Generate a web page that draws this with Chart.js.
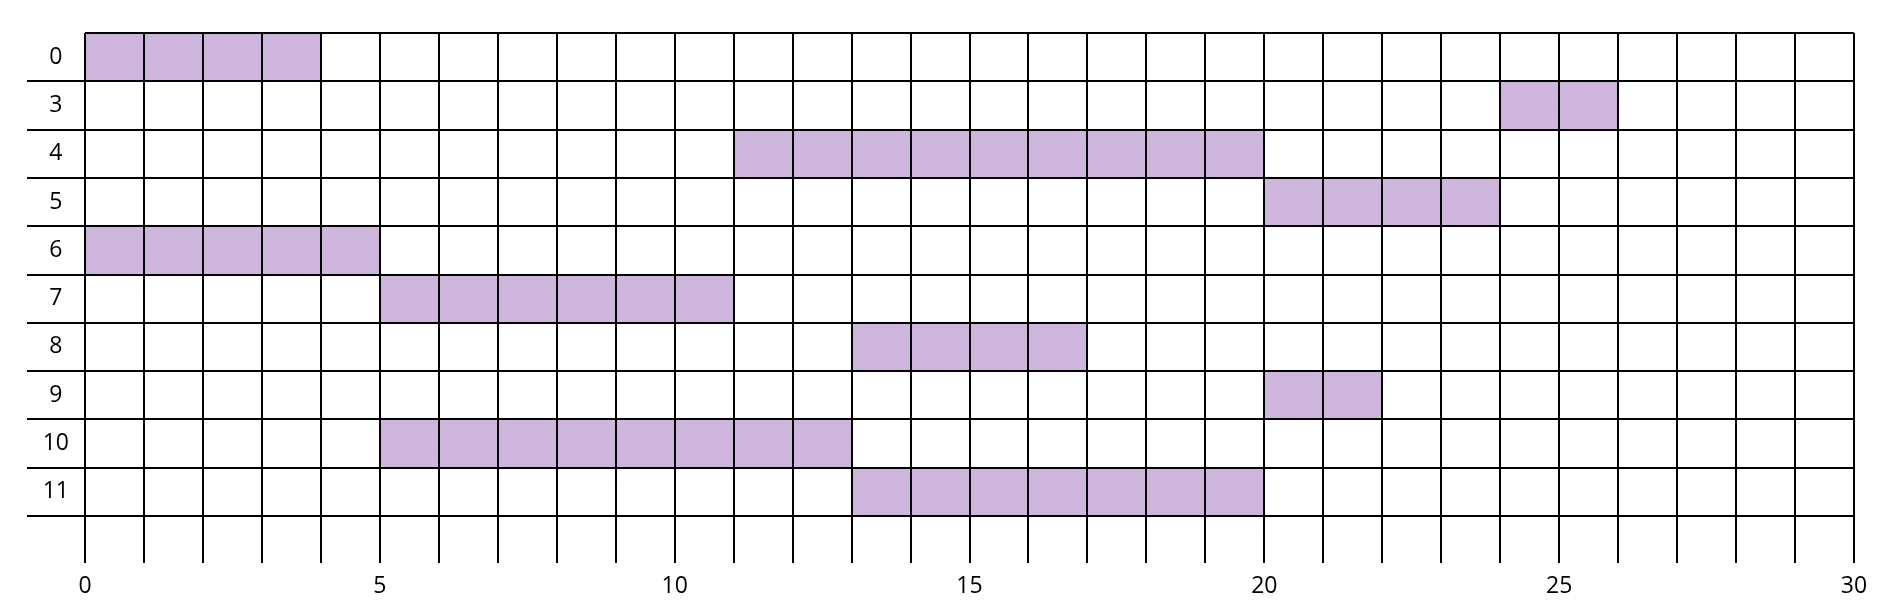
<!DOCTYPE html>
<html>
<head>
<meta charset="utf-8">
<script src="https://cdn.jsdelivr.net/npm/chart.js@4"></script>
<style>
  html, body { margin: 0; padding: 0; background: #fff; }
  #wrap { width: 1895px; height: 613px; }
</style>
</head>
<body>
<div id="wrap"><canvas id="chart"></canvas></div>
<script>
// 行ラベル
const rows = ["0", "3", "4", "5", "6", "7", "8", "9", "10", "11"];
// 各行のバー区間（開始・終了）
const starts = [0, 24, 11, 20, 0, 5, 13, 20, 5, 13];
const ends = [4, 26, 20, 24, 5, 11, 17, 22, 13, 20];
// 横軸
const xMin = 0;
const xMax = 30;
const xLabelStep = 5;

const barColor = "#CEB5DC";
const lineColor = "#000";

document.addEventListener("DOMContentLoaded", function () {
  const ctx = document.getElementById("chart");
  new Chart(ctx, {
    type: "bar",
    data: {
      labels: rows,
      datasets: [
        {
          data: starts.map((s, i) => [s, ends[i]]),
          backgroundColor: barColor,
          borderWidth: 0,
          barPercentage: 1,
          categoryPercentage: 1,
        },
      ],
    },
    options: {
      indexAxis: "y",
      responsive: true,
      maintainAspectRatio: false,
      animation: false,
      layout: { padding: { top: 33, right: 41, left: 0, bottom: 0 } },
      plugins: {
        legend: { display: false },
        tooltip: { enabled: false },
      },
      scales: {
        x: {
          type: "linear",
          min: xMin,
          max: xMax,
          border: { display: false },
          grid: {
            z: 1,
            color: lineColor,
            lineWidth: 2,
            tickLength: 47,
          },
          ticks: {
            stepSize: 1,
            autoSkip: false,
            maxRotation: 0,
            padding: 10,
            color: "#000",
            font: { family: "Open Sans", size: 23 },
            callback: (v) => (v % xLabelStep === 0 ? String(v) : ""),
          },
          afterFit: (scale) => {
            scale.height = 97;
          },
        },
        y: {
          border: { display: false },
          grid: {
            z: 1,
            color: lineColor,
            lineWidth: 2,
            tickLength: 58,
            // 一番上の線だけ左に伸ばさない
            tickColor: (c) => (c.index === 0 ? "rgba(0,0,0,0)" : lineColor),
          },
          ticks: {
            crossAlign: "center",
            padding: -42,
            color: "#000",
            font: { family: "Open Sans", size: 23 },
          },
          afterFit: (scale) => {
            scale.width = 85;
          },
        },
      },
    },
  });
});
</script>
</body>
</html>
